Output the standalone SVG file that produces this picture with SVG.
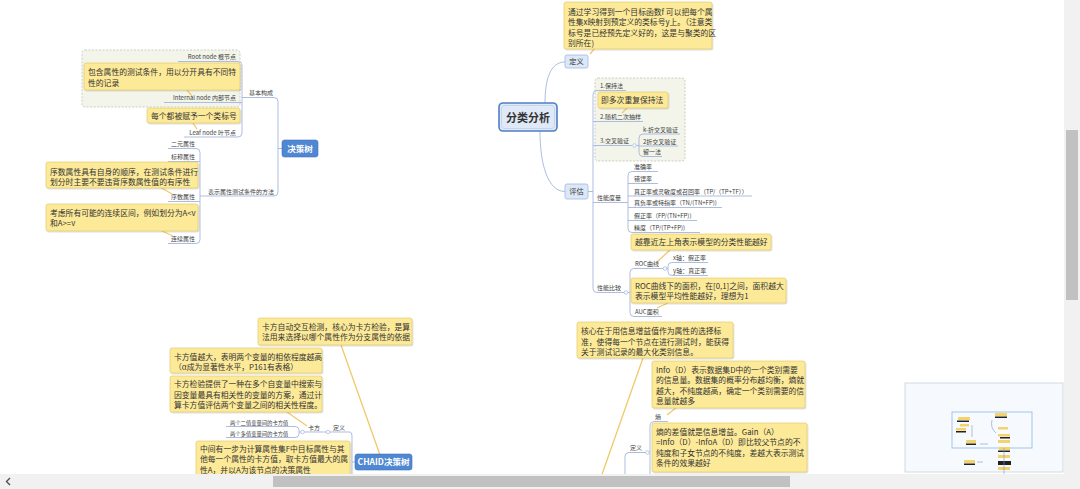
<svg xmlns="http://www.w3.org/2000/svg" width="1080" height="489" viewBox="0 0 1080 489">
<defs>
<filter id="sh" x="-5%" y="-5%" width="112%" height="125%"><feDropShadow dx="0.8" dy="1" stdDeviation="0.7" flood-color="#000" flood-opacity="0.18"/></filter>
<style>
text{font-family:"Noto Sans CJK SC","Liberation Sans",sans-serif;fill:#333}
.lbl{font-size:6px;fill:#3c3c3c}
.lbs{font-size:5.3px;fill:#3c3c3c}
.cot{font-size:7.8px;fill:#333}
.co{fill:#fdea98;stroke:#e3cb6e;stroke-width:0.7;filter:url(#sh)}
.ln{fill:none;stroke:#a4b6dc;stroke-width:0.9}
.tail{fill:none;stroke:#f0c96a;stroke-width:1.3}
.grp{fill:#f3f5eb;stroke:#bfc3b5;stroke-width:0.8;stroke-dasharray:2 1.5}
.sub{fill:#dce8f7;stroke:#9fb9df;stroke-width:0.8}
.blue{fill:#4f87d2;stroke:#3f74bf;stroke-width:0.6}
.bt{font-size:8.5px;font-weight:bold;fill:#fff}
.dot{fill:#fff;stroke:#a4b6dc;stroke-width:0.7}
</style>
</defs>
<rect width="1080" height="489" fill="#fff"/>

<!-- groups / boundaries -->
<rect class="grp" x="82" y="50" width="158" height="57" rx="3"/>
<rect class="grp" x="595" y="78" width="90" height="83" rx="3"/>

<!-- connectors -->
<g id="connectors">
<path class="ln" d="M178,61.5 H238 Q242,61.5 242,65.5 V133 Q242,137 238,137 H184"/>
<path class="ln" d="M164,102.5 H242"/>
<path class="ln" d="M242,97.5 H274 Q278,97.5 278,101.5 V192 Q278,196 274,196 H203"/>
<path class="ln" d="M278,148.5 H282"/>
<path class="ln" d="M168,148.5 H196 Q200,148.5 200,152.5 V239.5 Q200,243.5 196,243.5 H168"/>
<path class="ln" d="M168,161.5 H200 M168,201.5 H200 M200,196 H203"/>
<path class="ln" d="M545,103 C545,80 550,62 565,62"/>
<path class="ln" d="M540,131 C540,165 548,191.5 565,191.5"/>
<path class="ln" d="M626,90.5 H597 Q593,90.5 593,94.5 V288.5 Q593,292.5 597,292.5 H624"/>
<path class="ln" d="M593,121.5 H643 M593,145.5 H632 M593,202.5 H628 M588,191.5 H593"/>
<path class="ln" d="M680,134 H643 Q639,134 639,138 V152.5 Q639,156.5 643,156.5 H662 M639,146 H678 M636.5,145.5 H639"/>
<path class="ln" d="M658,171.5 H632 Q628,171.5 628,175.5 V228.5 Q628,232.5 632,232.5 H700"/>
<path class="ln" d="M628,183.5 H658 M628,196 H752 M628,207.5 H722 M628,220.5 H697"/>
<path class="ln" d="M628,292.5 H630 M662,268.5 H634 Q630,268.5 630,272.5 V312.5 Q630,316.5 634,316.5 H662"/>
<path class="ln" d="M662,268.5 H668 M708,262.5 H672 Q668,262.5 668,266 V272 Q668,275.5 672,275.5 H708"/>
<path class="ln" d="M226,426.5 H295 Q299,426.5 299,430 V434 Q299,437.5 295,437.5 H226 M299,432 H325"/>
<path class="ln" d="M325,432 H350 Q352,432 352,436 V480 M352,462 H356"/>
<path class="ln" d="M625,480 V456.5 Q625,452.5 629,452.5 H650 M668,421.5 H654 Q650,421.5 650,425.5 V480"/>
<circle class="dot" cx="634.5" cy="145.5" r="1.8"/>
<circle class="dot" cx="626" cy="292.5" r="1.8"/>
<circle class="dot" cx="665" cy="268.5" r="1.8"/>
<circle class="dot" cx="302.5" cy="432" r="1.8"/>
<circle class="dot" cx="328" cy="432" r="1.8"/>
<circle class="dot" cx="647.5" cy="452.5" r="1.8"/>
<!-- callout tails -->
<path class="tail" d="M187,90 L192,96 M193,123 L197,129 M158,186 L172,194 M160,230 L173,236 M595,48 L590,54 M627,108 L622,113 M670,250 L657,262 M670,302 L657,308 M341,345 L380,455 M287,412 L307,426 M677,407 L667,415 M643,358 L600,480"/>
</g>

<!-- center -->
<g id="center">
<rect x="499" y="103" width="58" height="28" rx="4" fill="#dfe9f8" stroke="#4f7fc4" stroke-width="1.6"/>
<rect x="501.5" y="105.5" width="53" height="23" rx="3" fill="none" stroke="#b9cdeb" stroke-width="0.7"/>
<text x="528" y="121.5" text-anchor="middle" font-size="11" font-weight="bold" fill="#2e3b4f">分类分析</text>
</g>

<!-- 决策树 -->
<g id="n-dt">
<rect class="blue" x="282" y="140" width="36" height="17" rx="2.5"/>
<text class="bt" x="300" y="151.5" text-anchor="middle">决策树</text>
</g>
<g id="n-basic"><text class="lbl" x="249" y="95">基本构成</text></g>
<g id="n-root"><text class="lbl" x="236" y="59" text-anchor="end">Root node 根节点</text></g>
<g id="n-internal"><text class="lbl" x="236" y="100" text-anchor="end">Internal node 内部节点</text></g>
<g id="n-leaf"><text class="lbl" x="236" y="134.5" text-anchor="end">Leaf node 叶节点</text></g>
<g id="c-internal">
<rect class="co" x="84" y="63" width="156" height="27" rx="2"/>
<text class="cot" x="88" y="74.5">包含属性的测试条件，用以分开具有不同特</text>
<text class="cot" x="88" y="85.5">性的记录</text>
</g>
<g id="c-leaf">
<rect class="co" x="147" y="108" width="93" height="15" rx="2"/>
<text class="cot" x="151" y="118.5">每个都被赋予一个类标号</text>
</g>
<g id="n-method"><text class="lbl" x="208" y="193.5">表示属性测试条件的方法</text></g>
<g id="n-bin"><text class="lbl" x="171" y="146">二元属性</text></g>
<g id="n-nom"><text class="lbl" x="171" y="159">标称属性</text></g>
<g id="n-ord"><text class="lbl" x="171" y="199">序数属性</text></g>
<g id="n-cont"><text class="lbl" x="171" y="241">连续属性</text></g>
<g id="c-ord">
<rect class="co" x="46" y="162" width="152" height="26" rx="2"/>
<text class="cot" x="50" y="174.5">序数属性具有自身的顺序，在测试条件进行</text>
<text class="cot" x="50" y="184.5">划分时主要不要违背序数属性值的有序性</text>
</g>
<g id="c-cont">
<rect class="co" x="46" y="204" width="152" height="27" rx="2"/>
<text class="cot" x="50" y="215.5">考虑所有可能的连续区间，例如划分为A&lt;v</text>
<text class="cot" x="50" y="226">和A&gt;=v</text>
</g>

<!-- 定义 / 评估 -->
<g id="c-def">
<rect class="co" x="564" y="2" width="148" height="47" rx="2"/>
<text class="cot" x="568" y="14.5">通过学习得到一个目标函数f 可以把每个属</text>
<text class="cot" x="568" y="25">性集x映射到预定义的类标号y上。（注意类</text>
<text class="cot" x="568" y="35.5">标号是已经预先定义好的，这是与聚类的区</text>
<text class="cot" x="568" y="46">别所在)</text>
</g>
<g id="n-def">
<rect class="sub" x="565" y="55" width="23" height="13" rx="2"/>
<text x="576.5" y="64.3" text-anchor="middle" font-size="7.2">定义</text>
</g>
<g id="n-eval">
<rect class="sub" x="565" y="184" width="23" height="15" rx="2"/>
<text x="576.5" y="194.3" text-anchor="middle" font-size="7.2">评估</text>
</g>
<g id="n-hold"><text class="lbl" x="600" y="88">1.保持法</text></g>
<g id="c-hold">
<rect class="co" x="598" y="92" width="70" height="16" rx="2"/>
<text class="cot" x="601" y="103">即多次重复保持法</text>
</g>
<g id="n-rand"><text class="lbl" x="600" y="119">2.随机二次抽样</text></g>
<g id="n-cv"><text class="lbl" x="600" y="143">3.交叉验证</text></g>
<g id="n-kcv"><text class="lbl" x="643" y="131.5">k-折交叉验证</text></g>
<g id="n-2cv"><text class="lbl" x="643" y="143.5">2折交叉验证</text></g>
<g id="n-loo"><text class="lbl" x="643" y="154">留一法</text></g>
<g id="n-metric"><text class="lbl" x="597" y="200">性能度量</text></g>
<g id="n-acc"><text class="lbl" x="634" y="169">准确率</text></g>
<g id="n-err"><text class="lbl" x="634" y="181">错误率</text></g>
<g id="n-tpr"><text class="lbl" x="634" y="193.5">真正率或灵敏度或召回率（TP/（TP+TF））</text></g>
<g id="n-tnr"><text class="lbl" x="634" y="205">真负率或特指率（TN/(TN+FP))</text></g>
<g id="n-fpr"><text class="lbl" x="634" y="218">假正率（FP/(TN+FP))</text></g>
<g id="n-prec"><text class="lbl" x="634" y="230">精度（TP/(TP+FP))</text></g>
<g id="c-roc">
<rect class="co" x="631" y="234" width="140" height="16" rx="2"/>
<text class="cot" x="635" y="245">越靠近左上角表示模型的分类性能越好</text>
</g>
<g id="n-cmp"><text class="lbl" x="597" y="290">性能比较</text></g>
<g id="n-roc"><text class="lbl" x="635" y="266">ROC曲线</text></g>
<g id="n-x"><text class="lbl" x="673" y="260">x轴：假正率</text></g>
<g id="n-y"><text class="lbl" x="673" y="273">y轴：真正率</text></g>
<g id="c-auc">
<rect class="co" x="631" y="278" width="155" height="25" rx="2"/>
<text class="cot" x="635" y="288.5">ROC曲线下的面积，在[0,1]之间，面积越大</text>
<text class="cot" x="635" y="299">表示模型平均性能越好，理想为1</text>
</g>
<g id="n-auc"><text class="lbl" x="635" y="314">AUC面积</text></g>

<!-- CHAID -->
<g id="c-chaid">
<rect class="co" x="258" y="318" width="154" height="27" rx="2"/>
<text class="cot" x="262" y="329.5">卡方自动交互检测，核心为卡方检验，是算</text>
<text class="cot" x="262" y="340">法用来选择以哪个属性作为分支属性的依据</text>
</g>
<g id="c-chi1">
<rect class="co" x="170" y="348" width="152" height="25" rx="2"/>
<text class="cot" x="174" y="359.5">卡方值越大，表明两个变量的相依程度越高</text>
<text class="cot" x="174" y="370">（α成为显著性水平，P161有表格）</text>
</g>
<g id="c-chi2">
<rect class="co" x="170" y="376" width="152" height="36" rx="2"/>
<text class="cot" x="174" y="387">卡方检验提供了一种在多个自变量中搜索与</text>
<text class="cot" x="174" y="397.5">因变量最具有相关性的变量的方案，通过计</text>
<text class="cot" x="174" y="408">算卡方值评估两个变量之间的相关性程度。</text>
</g>
<g id="n-chi-b"><text class="lbs" x="230" y="424.8">两个二值变量间的卡方值</text></g>
<g id="n-chi-m"><text class="lbs" x="230" y="435.8">两个多值变量间的卡方值</text></g>
<g id="n-chi"><text class="lbl" x="308" y="430">卡方</text></g>
<g id="n-chaid-def"><text class="lbl" x="333" y="430">定义</text></g>
<g id="c-chaid2">
<rect class="co" x="196" y="441" width="154" height="40" rx="2"/>
<text class="cot" x="200" y="451.5">中间有一步为计算属性集F中目标属性与其</text>
<text class="cot" x="200" y="462">他每一个属性的卡方值，取卡方值最大的属</text>
<text class="cot" x="200" y="472.5">性A，并以A为该节点的决策属性</text>
</g>
<g id="n-chaid">
<rect class="blue" x="355" y="454" width="57" height="16" rx="2.5"/>
<text class="bt" x="383.5" y="465" text-anchor="middle" font-size="8">CHAID决策树</text>
</g>

<!-- ID3 area -->
<g id="c-id3">
<rect class="co" x="577" y="322" width="156" height="36" rx="2"/>
<text class="cot" x="581" y="334">核心在于用信息增益值作为属性的选择标</text>
<text class="cot" x="581" y="344.5">准，使得每一个节点在进行测试时，能获得</text>
<text class="cot" x="581" y="355">关于测试记录的最大化类别信息。</text>
</g>
<g id="c-info">
<rect class="co" x="652" y="361" width="153" height="47" rx="2"/>
<text class="cot" x="656" y="372.5">Info（D）表示数据集D中的一个类别需要</text>
<text class="cot" x="656" y="383">的信息量。数据集的概率分布越均衡，熵就</text>
<text class="cot" x="656" y="393.5">越大，不纯度越高，确定一个类别需要的信</text>
<text class="cot" x="656" y="404">息量就越多</text>
</g>
<g id="n-ent"><text class="lbl" x="655" y="419">熵</text></g>
<g id="c-gain">
<rect class="co" x="652" y="423" width="155" height="49" rx="2"/>
<text class="cot" x="656" y="434.5">熵的差值就是信息增益。Gain（A）</text>
<text class="cot" x="656" y="445">=Info（D）-InfoA（D）即比较父节点的不</text>
<text class="cot" x="656" y="455.5">纯度和子女节点的不纯度，差越大表示测试</text>
<text class="cot" x="656" y="466">条件的效果越好</text>
</g>
<g id="n-id3-def"><text class="lbl" x="630" y="450">定义</text></g>

<!-- minimap -->
<g id="minimap">
<rect x="905" y="383" width="158" height="89" fill="#f6f9fd" stroke="#c9d1db" stroke-width="0.8"/>
<rect x="952" y="412" width="80" height="36" fill="none" stroke="#8dbbe6" stroke-width="0.8"/>
<g fill="#f3d36a">
<rect x="958" y="417" width="12" height="3"/><rect x="960" y="424" width="9" height="2.5"/><rect x="956" y="428" width="10" height="2.5"/>
<rect x="995" y="413" width="12" height="3"/><rect x="998" y="427" width="10" height="2.5"/><rect x="998" y="434" width="12" height="2.5"/>
<rect x="966" y="440" width="10" height="3"/><rect x="998" y="440" width="12" height="3"/><rect x="999" y="447" width="11" height="3"/>
<rect x="964" y="460" width="11" height="3"/><rect x="998" y="455" width="12" height="3"/><rect x="998" y="467" width="12" height="3"/>
</g>
<g fill="#222">
<rect x="957" y="420.5" width="12" height="1.5"/><rect x="956" y="431" width="10" height="1.5"/><rect x="995" y="416.5" width="12" height="1.5"/>
<rect x="1000" y="437" width="10" height="1.5"/><rect x="966" y="443.5" width="10" height="1.5"/><rect x="998" y="450.5" width="12" height="1.5"/>
<rect x="964" y="463.5" width="11" height="1.5"/><rect x="998" y="461" width="13" height="4"/>
</g>
<g fill="none" stroke="#7d98c6" stroke-width="0.6">
<path d="M972,425 V437 M992,420 Q990,428 996,433 M980,444 H988 M977,462 H983 M1004,448 V475"/>
</g>
</g>

<!-- scrollbars -->
<g id="scrollbars">
<rect x="1064" y="0" width="16" height="489" fill="#f1f1f1"/>
<rect x="1066" y="130" width="12" height="170" fill="#c1c1c1"/>
<rect x="0" y="474" width="1064" height="15" fill="#f1f1f1"/>
<rect x="273" y="476" width="517" height="11" fill="#c1c1c1"/>
<path d="M10,478 L6.5,481.5 L10,485" fill="none" stroke="#505050" stroke-width="1.4"/>
</g>
</svg>
